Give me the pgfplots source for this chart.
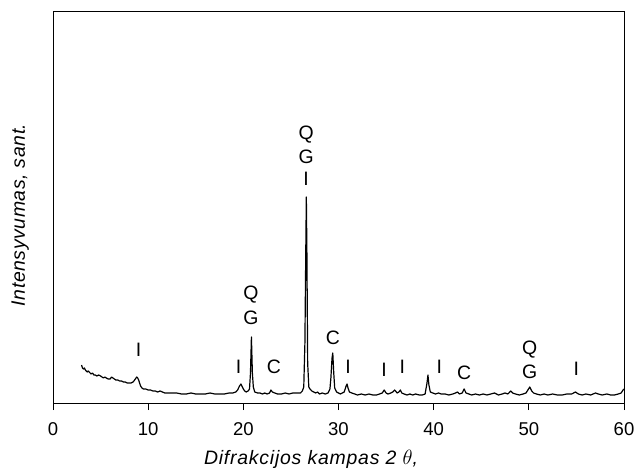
\documentclass[border=0pt]{standalone}
\usepackage{pgfplots}
\pgfplotsset{compat=1.18}
\usepackage{fontspec}
\setmainfont{Liberation Sans}
\begin{document}
\begin{tikzpicture}
\path[use as bounding box] (-53bp,-71bp) rectangle (583bp,403bp);
\begin{axis}[
  at={(0,0)}, anchor=south west,
  scale only axis, width=571bp, height=391bp,
  xmin=0, xmax=60, ymin=0, ymax=391,
  xtick={0,10,...,60}, ytick=\empty,
  xtick pos=bottom, tick align=outside,
  major tick length=7bp,
  axis line style={line width=1pt},
  every tick/.style={black, line width=1pt},
  tick label style={font=\fontsize{18.6}{22}\selectfont},
  xticklabel style={yshift=-9bp},
  /pgf/number format/assume math mode=true,
  xlabel={\addfontfeature{LetterSpace=4}\itshape Difrakcijos kampas 2 $\theta$,},
  xlabel style={font=\fontsize{19.5}{22}\selectfont, at={(axis description cs:0.452,0)}, anchor=north, inner sep=0pt, yshift=-47bp},
  ylabel={\addfontfeature{LetterSpace=3}\itshape Intensyvumas, sant.},
  ylabel style={font=\fontsize{19.5}{22}\selectfont, at={(axis description cs:0,0.481)}, anchor=south, inner sep=0pt, yshift=24bp},
  clip=false,
]
\addplot[black, line width=1.2pt, line join=round] coordinates {
(3.0,38)(3.1,35)(3.2,34)(3.3,35)(3.4,33)(3.5,32)(3.6,31)(3.7,32)(3.8,31)(3.9,30)(4.0,29)(4.15,30)(4.3,28)(4.45,28)(4.6,27)(4.8,28)(5.0,27)(5.15,26)(5.3,25)(5.45,26)(5.6,25)(5.8,24)(6.0,24)(6.15,26)(6.3,25)(6.45,24)(6.6,23)(6.8,23)(7.0,22)(7.2,22)(7.4,21)(7.6,21)(7.8,20)(8.0,20)(8.2,20)(8.4,21)(8.5,22)(8.65,24)(8.8,26)(8.9,25)(9.0,23)(9.1,20)(9.2,17)(9.35,15)(9.5,14)(9.75,14)(10.0,13)(10.25,13)(10.5,12)(10.75,12)(11.0,11)(11.25,12)(11.5,11)(11.75,10)(12.0,10)(12.5,10)(13.0,10)(13.5,9)(14.0,9)(14.5,10)(15.0,9)(15.5,9)(16.0,9)(16.5,10)(17.0,9)(17.5,9)(18.0,9)(18.5,10)(18.9,10)(19.2,11)(19.4,13)(19.6,17)(19.75,19)(19.9,16)(20.0,14)(20.15,12)(20.3,11)(20.5,12)(20.65,14)(20.75,30)(20.85,66)(20.95,30)(21.05,16)(21.2,11)(21.5,10)(21.75,10)(22.0,9)(22.25,10)(22.5,9)(22.75,10)(22.9,13)(23.05,11)(23.3,10)(23.6,9)(24.0,9)(24.4,10)(24.8,9)(25.2,10)(25.5,10)(25.8,10)(26.0,10)(26.2,12)(26.35,16)(26.47,60)(26.56,150)(26.62,206)(26.68,150)(26.76,40)(26.88,16)(27.0,14)(27.2,12)(27.4,11)(27.6,10)(27.8,11)(28.0,9)(28.3,10)(28.6,9)(28.9,10)(29.1,14)(29.2,25)(29.32,45)(29.4,50)(29.5,30)(29.6,15)(29.8,11)(30.0,10)(30.2,9)(30.4,10)(30.6,11)(30.8,17)(30.9,19)(31.0,15)(31.15,11)(31.4,10)(31.7,9)(32.0,8)(32.4,9)(32.8,8)(33.2,9)(33.6,8)(34.0,8)(34.3,9)(34.6,10)(34.8,13)(35.0,10)(35.2,9)(35.5,10)(35.7,11)(35.9,13)(36.0,12)(36.15,10)(36.35,11)(36.5,13)(36.65,10)(36.9,9)(37.2,8)(37.5,9)(37.8,8)(38.1,9)(38.5,8)(38.8,8)(39.1,9)(39.3,20)(39.4,28)(39.5,18)(39.65,11)(39.9,10)(40.2,9)(40.5,10)(40.8,9)(41.2,9)(41.6,8)(42.0,9)(42.3,10)(42.5,11)(42.7,9)(43.0,10)(43.2,14)(43.4,10)(43.7,9)(44.0,8)(44.4,9)(44.8,8)(45.2,9)(45.6,8)(46.0,9)(46.4,10)(46.8,8)(47.2,9)(47.5,10)(47.8,9)(48.1,12)(48.3,10)(48.6,9)(49.0,8)(49.4,9)(49.7,10)(49.9,13)(50.1,16)(50.3,12)(50.5,10)(50.8,9)(51.2,8)(51.6,9)(52.0,8)(52.5,9)(53.0,8)(53.5,8)(54.0,9)(54.5,9)(54.9,11)(55.2,9)(55.6,8)(56.0,9)(56.5,8)(57.0,10)(57.3,9)(57.7,8)(58.2,9)(58.6,8)(59.0,8)(59.4,9)(59.7,10)(59.9,13)(60.0,14)
};
\begin{scope}[every node/.style={font=\fontsize{19.5}{22}\selectfont, inner sep=0pt}]
\node at (axis cs:9,53) {I};
\node at (axis cs:19.5,36) {I};
\node at (axis cs:20.8,108) {Q};
\node at (axis cs:20.8,85) {G};
\node at (axis cs:23.2,36) {C};
\node at (axis cs:26.6,268) {Q};
\node at (axis cs:26.6,246) {G};
\node at (axis cs:26.6,224) {I};
\node at (axis cs:29.4,65) {C};
\node at (axis cs:31,36) {I};
\node at (axis cs:34.8,33) {I};
\node at (axis cs:36.7,36) {I};
\node at (axis cs:40.6,36) {I};
\node at (axis cs:43.2,30) {C};
\node at (axis cs:50.1,53) {Q};
\node at (axis cs:50.1,31) {G};
\node at (axis cs:55,34) {I};
\end{scope}
\end{axis}
\end{tikzpicture}
\end{document}
